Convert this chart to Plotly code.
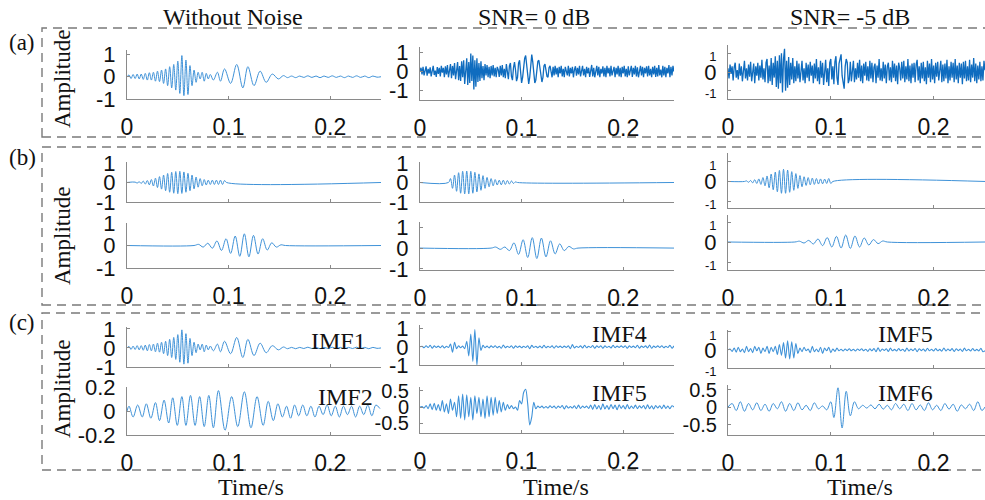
import plotly.graph_objects as go

# ---------------- DATA ----------------
X_TICKS = [0, 0.1, 0.2]
X_TICK_TEXT = ["0", "0.1", "0.2"]
COL_TITLES = ["Without Noise", "SNR= 0 dB", "SNR= -5 dB"]
ROW_TAGS = ["(a)", "(b)", "(c)"]
IMF_NAMES = ["IMF1", "IMF2", "IMF4", "IMF5", "IMF5", "IMF6"]

# clean signal (row a, col 1) -- also IMF1 (row c, col 1), identical in the picture
CLEAN_T0, CLEAN_DT = 0.0, 0.002
CLEAN_V1 = [0, 0.08, -0.08, 0.1, -0.08, 0.12, -0.1, 0.12, -0.12, 0.15, -0.15, 0.18, -0.15, 0.2,
            -0.2, 0.25, -0.22, 0.3, -0.3, 0.35, -0.4, 0.45, -0.5, 0.55, -0.6, 0.7, -0.75, 0.95,
            -0.85, 0.75, -0.8, 0.5, -0.4, 0.3, -0.25, 0.2, -0.1, 0.2, -0.2, 0.15, -0.1, 0.1]
CLEAN_T2 = [0.085, 0.089, 0.092, 0.096, 0.102, 0.108, 0.114, 0.119, 0.125, 0.131, 0.137, 0.143,
            0.149, 0.154, 0.158, 0.162, 0.166, 0.170, 0.174, 0.178, 0.182, 0.186, 0.190, 0.194,
            0.198, 0.202, 0.206, 0.210, 0.214, 0.218, 0.222, 0.226, 0.230, 0.234, 0.238, 0.242,
            0.246, 0.250]
CLEAN_V2 = [-0.15, 0.2, -0.2, 0.35, -0.3, 0.55, -0.5, 0.45, -0.4, 0.25, -0.25, 0.12, -0.1, 0.05,
            -0.04, 0.03, -0.04, 0.03, -0.03, 0.04, -0.03, 0.03, -0.04, 0.03, -0.03, 0.04, -0.03,
            0.03, -0.04, 0.03, -0.03, 0.04, -0.03, 0.03, -0.04, 0.03, -0.02, 0.0]

# row b components
B1_COL1_T0, B1_COL1_DT = 0.008, 0.002
B1_COL1_V = [0.02, -0.03, 0.04, -0.05, 0.07, -0.08, 0.1, -0.12, 0.15, -0.18, 0.22, -0.26, 0.3,
             -0.34, 0.38, -0.42, 0.46, -0.5, 0.52, -0.55, 0.56, -0.57, 0.57, -0.56, 0.54, -0.5,
             0.47, -0.42, 0.38, -0.33, 0.28, -0.24, 0.2, -0.17, 0.15, -0.13, 0.12, -0.1, 0.12,
             -0.1, 0.12, -0.1, 0.12, -0.1, 0.1, 0]
B2_COL1_T0, B2_COL1_DT = 0.066, 0.0045
B2_COL1_V = [0, 0.05, -0.07, 0.1, -0.12, 0.2, -0.22, 0.3, -0.35, 0.42, -0.48, 0.52, -0.5, 0.45,
             -0.38, 0.3, -0.2, 0.12, -0.07, 0.03, 0]
B1_COL2_T0, B1_COL2_DT = 0.028, 0.002
B1_COL2_V = [0, 0.2, -0.3, 0.38, -0.45, 0.5, -0.55, 0.57, -0.58, 0.58, -0.58, 0.57, -0.55, 0.52,
             -0.48, 0.44, -0.4, 0.35, -0.3, 0.26, -0.22, 0.2, -0.17, 0.15, -0.13, 0.12, -0.12,
             0.12, -0.1, 0.1, -0.08, 0.08, -0.05, 0.03, 0]
B2_COL2_T0, B2_COL2_DT = 0.070, 0.0045
B2_COL2_V = [0, 0.05, -0.06, 0.05, -0.12, 0.25, -0.3, 0.4, -0.45, 0.5, -0.5, 0.48, -0.42, 0.35,
             -0.28, 0.2, -0.12, 0.08, -0.04, 0]
B1_COL3_T0, B1_COL3_DT = 0.016, 0.002
B1_COL3_V = [0, 0.03, -0.04, 0.05, -0.07, 0.09, -0.1, 0.13, -0.15, 0.2, -0.22, 0.28, -0.32, 0.38,
             -0.42, 0.48, -0.52, 0.56, -0.6, 0.62, -0.6, 0.58, -0.55, 0.5, -0.45, 0.4, -0.35, 0.3,
             -0.27, 0.24, -0.2, 0.2, -0.17, 0.17, -0.15, 0.15, -0.13, 0.13, -0.12, 0.12, -0.1,
             0.15, -0.1, 0]
B2_COL3_T0, B2_COL3_DT = 0.065, 0.0045
B2_COL3_V = [0, 0.04, -0.05, 0.08, -0.1, 0.15, -0.18, 0.22, -0.25, 0.28, -0.3, 0.35, -0.32, 0.3,
             -0.25, 0.2, -0.15, 0.12, -0.08, 0.05, 0]

# noisy signals, sampled every 1 ms
NOISY0_DT = 0.001
NOISY0_V = [0.05, 0.2, -0.15, 0.25, -0.2, 0.1, 0.28, -0.22, 0.15, -0.1,
            0.22, -0.25, 0.18, 0.3, -0.18, 0.05, -0.28, 0.24, -0.12, 0.2,
            -0.26, 0.3, -0.05, 0.2, -0.3, 0.28, -0.15, 0.35, -0.3, 0.1,
            0.4, -0.35, 0.3, -0.2, 0.45, -0.4, 0.2, 0.5, -0.45, 0.3,
            -0.5, 0.55, -0.3, 0.6, -0.65, 0.4, 0.7, -0.7, 0.5, -0.6,
            0.95, -0.5, 0.85, -0.95, 0.6, -0.8, 0.7, -0.55, 0.45, -0.5,
            0.55, -0.35, 0.3, -0.45, 0.4, -0.2, 0.35, -0.3, 0.25, -0.35,
            0.3, -0.2, 0.35, -0.25, 0.2, -0.3, 0.25, 0.1, -0.28, 0.3,
            -0.2, 0.35, -0.3, 0.15, -0.35, 0.4, -0.1, -0.4, 0.3, 0.45,
            -0.25, -0.45, 0.2, 0.5, 0.1, -0.5, -0.3, 0.45, 0.6, -0.2,
            -0.6, -0.3, 0.4, 0.7, 0.85, 0.3, -0.5, -0.65, -0.3, 0.5,
            0.9, 0.5, -0.2, -0.6, -0.45, 0.1, 0.55, 0.6, 0.2, -0.35,
            -0.55, -0.3, 0.3, 0.4, 0.15, -0.25, -0.3, 0.2, 0.3, -0.1,
            -0.3, 0.25, -0.2, 0.3, -0.15, 0.2, -0.3, 0.25, -0.1, 0.3,
            -0.25, 0.15, -0.3, 0.25, 0.05, -0.2, 0.3, -0.25, 0.2, -0.1,
            0.25, -0.3, 0.1, 0.28, -0.22, 0.2, -0.15, 0.3, -0.25, 0.05,
            0.3, -0.2, 0.15, -0.3, 0.25, -0.1, 0.2, -0.28, 0.22, 0.35,
            -0.25, 0.2, -0.3, 0.1, 0.3, -0.2, 0.25, -0.3, 0.15, -0.1,
            0.28, -0.25, 0.2, -0.3, 0.3, -0.1, 0.2, -0.25, 0.3, -0.2,
            0.1, 0.25, -0.3, 0.2, -0.15, 0.3, -0.25, 0.2, -0.3, 0.25,
            -0.1, 0.3, -0.25, 0.15, -0.3, 0.28, -0.2, 0.1, 0.3, -0.28,
            0.2, -0.15, 0.3, -0.25, 0.22, -0.3, 0.15, 0.3, -0.2, 0.25,
            -0.3, 0.2, -0.1, 0.28, -0.25, 0.3, -0.2, 0.15, -0.3, 0.25,
            -0.15, 0.3, -0.28, 0.2, -0.25, 0.35, -0.2, 0.1, -0.3, 0.3,
            -0.2, 0.25, -0.3, 0.2, -0.1, 0.35, -0.3, 0.25, -0.2, 0.3, 0.0]
NOISY5_DT = 0.001
NOISY5_V = [0.2, -0.35, 0.4, -0.1, 0.3, -0.45, 0.25, 0.5, -0.3, 0.1,
            -0.4, 0.45, -0.2, 0.3, -0.5, 0.35, 0.6, -0.35, 0.2, -0.45,
            0.4, -0.25, 0.55, -0.5, 0.15, 0.45, -0.6, 0.3, -0.2, 0.5,
            -0.45, 0.35, -0.3, 0.65, -0.4, 0.2, -0.55, 0.5, 0.7, -0.6,
            0.35, -0.5, 0.75, -0.7, 0.5, -0.3, 0.85, -0.8, 0.6, -0.9,
            0.9, -0.6, 1.0, -1.1, 0.7, 1.25, -1.0, 0.6, -0.85, 0.8,
            -0.7, 0.5, -0.4, 0.75, -0.6, 0.3, -0.5, 0.6, -0.35, 0.45,
            -0.55, 0.3, 0.6, -0.45, 0.2, -0.6, 0.5, -0.3, 0.4, -0.5,
            0.55, -0.2, 0.35, -0.6, 0.45, -0.35, 0.7, -0.5, 0.25, -0.65,
            0.6, -0.3, 0.5, -0.7, 0.35, 0.65, -0.55, 0.2, -0.75, 0.5,
            0.7, -0.4, 0.3, -0.65, 0.55, 0.85, -0.3, -0.7, 0.45, 0.8,
            0.95, -0.2, -0.75, -0.9, 0.3, 0.7, 0.5, -0.6, -0.4, 0.55,
            -0.5, 0.3, 0.6, -0.55, 0.2, -0.4, 0.5, -0.3, 0.65, -0.5,
            0.35, -0.6, 0.45, -0.2, 0.55, -0.45, 0.3, -0.5, 0.6, -0.35,
            0.5, -0.55, 0.25, 0.45, -0.6, 0.35, -0.3, 0.7, -0.45, 0.2,
            -0.5, 0.55, -0.35, 0.4, -0.6, 0.3, 0.5, -0.45, 0.25, -0.55,
            0.6, -0.3, 0.45, -0.5, 0.35, -0.65, 0.5, 0.2, -0.45, 0.55,
            -0.35, 0.6, -0.55, 0.3, -0.4, 0.7, -0.5, 0.35, -0.6, 0.45,
            -0.3, 0.5, -0.55, 0.4, 0.65, -0.45, 0.3, -0.6, 0.5, -0.35,
            0.55, -0.5, 0.25, -0.65, 0.6, -0.3, 0.45, -0.55, 0.7, -0.4,
            0.35, -0.6, 0.5, -0.25, 0.55, -0.45, 0.3, 0.6, -0.55, 0.4,
            -0.5, 0.45, -0.35, 0.65, -0.6, 0.3, -0.45, 0.55, -0.3, 0.5,
            -0.55, 0.7, -0.4, 0.35, -0.6, 0.5, -0.3, 0.45, -0.65, 0.55,
            -0.35, 0.6, -0.5, 0.3, -0.45, 0.65, -0.55, 0.4, -0.3, 0.75,
            -0.5, 0.45, -0.6, 0.35, -0.4, 0.55, -0.5, 0.3, -0.45, 0.6, 0.1]

# IMF2 (row c, col 1)
IMF2_T = [0, 0.002, 0.006, 0.0105, 0.015, 0.019, 0.0235, 0.028, 0.032, 0.0365, 0.041, 0.045,
          0.0495, 0.054, 0.058, 0.0625, 0.067, 0.0715, 0.076, 0.0805, 0.085, 0.090, 0.0965,
          0.103, 0.109, 0.1155, 0.122, 0.128, 0.134, 0.139, 0.144, 0.1485, 0.153, 0.157, 0.161,
          0.165, 0.169, 0.173, 0.177, 0.181, 0.185, 0.189, 0.193, 0.197, 0.201, 0.205, 0.209,
          0.213, 0.217, 0.221, 0.225, 0.229, 0.233, 0.237, 0.241, 0.245, 0.249]
IMF2_V = [0, 0.04, -0.05, 0.05, -0.05, 0.06, -0.06, 0.07, -0.08, 0.09, -0.1, 0.11, -0.12, 0.12,
          -0.12, 0.13, -0.12, 0.12, -0.13, 0.13, -0.14, 0.17, -0.16, 0.12, -0.13, 0.16, -0.14,
          0.12, -0.12, 0.08, -0.08, 0.06, -0.05, 0.04, -0.06, 0.05, -0.04, 0.05, -0.04, 0.04,
          -0.05, 0.04, -0.03, 0.05, -0.04, 0.04, -0.05, 0.04, -0.03, 0.04, -0.05, 0.04, -0.03,
          0.05, -0.04, 0.05, 0.02]

# IMF4 / IMF5 (col 2), IMF5 (col 3): sampled every 2 ms
IMF_DT = 0.002
IMF4_V = [0, 0.03, -0.05, 0.06, -0.04, 0.08, -0.08, 0.05, -0.03, 0.04,
          -0.05, 0.06, -0.06, 0.03, -0.04, 0.15, -0.3, 0.25, -0.1, 0.05,
          -0.05, 0.04, -0.1, 0.3, -0.5, 0.7, -0.8, 0.95, -1.0, 0.5,
          -0.2, 0.08, -0.05, 0.04, -0.06, 0.05, -0.04, 0.06, -0.05, 0.03,
          -0.08, 0.1, -0.05, 0.03, -0.04, 0.06, -0.08, 0.05, -0.03, 0.04,
          -0.05, 0.03, -0.04, 0.06, -0.1, 0.08, -0.04, 0.03, -0.05, 0.04,
          -0.06, 0.08, -0.05, 0.03, -0.04, 0.05, -0.07, 0.06, -0.03, 0.04,
          -0.05, 0.04, -0.03, 0.05, -0.1, 0.12, -0.06, 0.03, -0.04, 0.05,
          -0.06, 0.08, -0.05, 0.03, -0.04, 0.07, -0.08, 0.05, -0.03, 0.06,
          -0.08, 0.05, -0.04, 0.03, -0.06, 0.08, -0.05, 0.04, -0.03, 0.05,
          -0.04, 0.06, -0.08, 0.05, -0.03, 0.04, -0.05, 0.08, -0.07, 0.04,
          -0.03, 0.05, -0.06, 0.1, -0.08, 0.04, -0.03, 0.05, -0.04, 0.06,
          -0.05, 0.03, -0.04, 0.08, -0.08, 0.05]
IMF5_COL2_V = [0, 0.02, -0.03, 0.05, -0.05, 0.1, -0.08, 0.12, -0.1, 0.08,
               -0.12, 0.2, -0.15, 0.1, -0.2, 0.25, -0.1, 0.15, -0.3, 0.35,
               -0.35, 0.4, -0.4, 0.38, -0.3, 0.3, -0.4, 0.35, -0.2, 0.3,
               -0.3, 0.25, -0.35, 0.35, -0.3, 0.3, -0.25, 0.3, -0.2, 0.2,
               -0.15, 0.15, -0.1, 0.08, -0.05, 0.05, -0.05, 0.0, -0.1, 0.2,
               0.1, 0.45, 0.55, 0.1, -0.55, -0.3, 0.15, -0.05, 0.03, -0.02,
               0.03, -0.03, 0.02, -0.03, 0.04, -0.02, 0.03, -0.04, 0.03, -0.02,
               0.05, -0.06, 0.04, -0.03, 0.02, -0.03, 0.04, -0.05, 0.06, -0.04,
               0.03, -0.02, 0.03, -0.04, 0.06, -0.07, 0.08, -0.06, 0.05, -0.08,
               0.1, -0.06, 0.05, -0.07, 0.08, -0.05, 0.06, -0.08, 0.07, -0.04,
               0.05, -0.06, 0.08, -0.05, 0.03, -0.04, 0.06, -0.05, 0.04, -0.03,
               0.05, -0.06, 0.07, -0.05, 0.04, -0.06, 0.05, -0.03, 0.04, -0.05,
               0.06, -0.04, 0.03, -0.05, 0.04, 0.0]
IMF5_COL3_V = [0, 0.05, -0.08, 0.1, -0.12, 0.15, -0.1, 0.05, -0.15, 0.2,
               -0.1, 0.08, -0.15, 0.2, -0.05, 0.15, -0.2, 0.1, -0.1, 0.2,
               -0.2, 0.15, -0.1, 0.2, -0.25, 0.3, -0.3, 0.4, -0.45, 0.5,
               -0.5, 0.45, -0.45, 0.35, -0.2, 0.1, -0.1, 0.15, -0.05, 0.05,
               -0.15, 0.2, -0.1, 0.05, -0.1, 0.15, -0.2, 0.1, -0.05, 0.15,
               -0.15, 0.05, -0.08, 0.1, -0.05, 0.04, -0.06, 0.05, -0.04, 0.06,
               -0.05, 0.04, -0.06, 0.05, -0.03, 0.06, -0.05, 0.04, -0.08, 0.06,
               -0.05, 0.08, -0.1, 0.12, -0.08, 0.05, -0.03, 0.06, -0.08, 0.1,
               -0.05, 0.03, -0.06, 0.08, -0.05, 0.04, -0.08, 0.1, -0.06, 0.05,
               -0.04, 0.08, -0.1, 0.06, -0.04, 0.05, -0.07, 0.09, -0.05, 0.04,
               -0.06, 0.08, -0.05, 0.03, -0.07, 0.1, -0.06, 0.05, -0.04, 0.07,
               -0.09, 0.06, -0.04, 0.05, -0.08, 0.1, -0.05, 0.04, -0.06, 0.08,
               -0.05, 0.03, -0.06, 0.09, -0.1, -0.05]
# IMF6 (row c, col 3)
IMF6_T = [0.000, 0.004, 0.008, 0.012, 0.016, 0.020, 0.024, 0.028, 0.032, 0.036, 0.040, 0.044,
          0.048, 0.052, 0.056, 0.060, 0.064, 0.068, 0.072, 0.076, 0.080, 0.084, 0.088, 0.092,
          0.096, 0.100, 0.103, 0.107, 0.111, 0.115, 0.119, 0.123, 0.127, 0.131, 0.135, 0.139,
          0.143, 0.147, 0.151, 0.155, 0.159, 0.163, 0.167, 0.171, 0.175, 0.179, 0.183, 0.187,
          0.191, 0.195, 0.199, 0.203, 0.207, 0.211, 0.215, 0.219, 0.223, 0.227, 0.231, 0.235,
          0.239, 0.243, 0.247, 0.250]
IMF6_V = [0, 0.1, -0.1, 0.15, -0.12, 0.1, -0.08, 0.12, -0.1, 0.08, -0.12, 0.1, -0.05, 0.15,
          -0.12, 0.1, -0.1, 0.12, -0.08, 0.05, -0.1, 0.12, -0.05, 0.03, -0.08, 0.15, -0.3, 0.55,
          -0.6, 0.45, -0.25, 0.15, -0.05, 0.05, -0.03, 0.06, -0.05, 0.08, -0.06, 0.05, -0.08,
          0.1, -0.05, 0.08, -0.1, 0.1, -0.08, 0.06, -0.1, 0.12, -0.08, 0.05, -0.1, 0.1, -0.06,
          0.08, -0.12, 0.06, -0.05, 0.08, -0.1, 0.15, -0.1, 0.0]


# ---------------- helpers ----------------
def grid_times(t0, dt, values):
    return [round(t0 + dt * k, 6) for k in range(len(values))]


def padded(t0, dt, values):
    """Burst sampled on a grid, with the flat zero line before and after it."""
    t = grid_times(t0, dt, values)
    return [0.0] + t + [0.25], [0.0] + list(values) + [0.0]


clean = (grid_times(CLEAN_T0, CLEAN_DT, CLEAN_V1) + CLEAN_T2, CLEAN_V1 + CLEAN_V2)
imf1 = clean
noisy0 = (grid_times(0, NOISY0_DT, NOISY0_V), NOISY0_V)
noisy5 = (grid_times(0, NOISY5_DT, NOISY5_V), NOISY5_V)
b1c1 = padded(B1_COL1_T0, B1_COL1_DT, B1_COL1_V)
b2c1 = padded(B2_COL1_T0, B2_COL1_DT, B2_COL1_V)
b1c2 = padded(B1_COL2_T0, B1_COL2_DT, B1_COL2_V)
b2c2 = padded(B2_COL2_T0, B2_COL2_DT, B2_COL2_V)
b1c3 = padded(B1_COL3_T0, B1_COL3_DT, B1_COL3_V)
b2c3 = padded(B2_COL3_T0, B2_COL3_DT, B2_COL3_V)
imf2 = (IMF2_T, IMF2_V)
imf4 = (grid_times(0, IMF_DT, IMF4_V), IMF4_V)
imf5c2 = (grid_times(0, IMF_DT, IMF5_COL2_V), IMF5_COL2_V)
imf5c3 = (grid_times(0, IMF_DT, IMF5_COL3_V), IMF5_COL3_V)
imf6 = (IMF6_T, IMF6_V)

# ---------------- layout ----------------
W, H = 985, 500
def fx(px): return px / W
def fy(px): return 1 - px / H

SERIF = "Liberation Serif, Times New Roman, serif"
SANS = "Liberation Sans, Arial, sans-serif"
AX = "#8a8a8a"
LIGHT = "#3f92d8"
DARK = "#0f6cbf"
TXT = "#111111"

COL_X = {1: (127, 381), 2: (420, 674), 3: (728, 985)}
SMALL1 = ["<span style='font-size:13px'>-1</span>", "0", "<span style='font-size:13px'>1</span>"]
YT = {
    "pm1": ([-1, 0, 1], ["-1", "0", "1"], 22),
    "pm1s": ([-1, 0, 1], SMALL1, 22),
    "pm02": ([-0.2, 0, 0.2], ["-0.2", "0", "0.2"], 22),
    "pm05": ([-0.5, 0, 0.5], ["-0.5", "0", "0.5"], 20),
}
# (col, top px, bottom px, y range, ytick set, x labels, data, style)
PANELS = [
    (1, 50, 99, [-1, 1.2], "pm1", True, clean, "clean"),
    (1, 162, 202, [-1, 1.05], "pm1", False, b1c1, "clean"),
    (1, 223, 268, [-1, 1], "pm1", True, b2c1, "clean"),
    (1, 327, 367, [-1, 1.1], "pm1", False, imf1, "clean"),
    (1, 387, 435, [-0.2, 0.2], "pm02", True, imf2, "clean"),
    (2, 47, 100, [-1.5, 1.3], "pm1", True, noisy0, "noisy"),
    (2, 162, 202, [-1, 1.05], "pm1", False, b1c2, "clean"),
    (2, 222, 270, [-1.05, 1.25], "pm1", True, b2c2, "clean"),
    (2, 325, 365, [-1, 1.2], "pm1", False, imf4, "imf"),
    (2, 387, 433, [-0.8, 0.62], "pm05", True, imf5c2, "imf"),
    (3, 45, 99, [-1.45, 1.45], "pm1s", True, noisy5, "noisy"),
    (3, 153, 208, [-1.35, 1.45], "pm1s", False, b1c3, "clean"),
    (3, 215, 270, [-1.4, 1.35], "pm1s", True, b2c3, "clean"),
    (3, 330, 368, [-1, 1.1], "pm1s", False, imf5c3, "imf"),
    (3, 385, 435, [-0.8, 0.63], "pm05", True, imf6, "clean"),
]

fig = go.Figure()
layout = dict(
    width=W, height=H, margin=dict(l=0, r=0, t=0, b=0, autoexpand=False),
    paper_bgcolor="white", plot_bgcolor="white", showlegend=False,
    font=dict(family=SANS, color=TXT),
)

for i, (col, top, bot, yr, ytk, xlab, data, style) in enumerate(PANELS, start=1):
    xs = "" if i == 1 else str(i)
    x0, x1 = COL_X[col]
    layout["xaxis" + xs] = dict(
        domain=[fx(x0), fx(x1)], range=[0, 0.25], anchor="y" + xs, automargin=False,
        showgrid=False, zeroline=False, showline=True, linecolor=AX, linewidth=1,
        ticks="inside", ticklen=3, tickcolor=AX, tickvals=X_TICKS, ticktext=X_TICK_TEXT,
        showticklabels=xlab, tickfont=dict(family=SANS, size=23, color=TXT),
        ticklabelstandoff=7, fixedrange=True,
    )
    tv, tt, tsize = YT[ytk]
    layout["yaxis" + xs] = dict(
        domain=[fy(bot), fy(top)], range=yr, anchor="x" + xs, automargin=False,
        showgrid=False, zeroline=False, showline=True, linecolor=AX, linewidth=1,
        ticks="inside", ticklen=3, tickcolor=AX, tickvals=tv, ticktext=tt,
        tickfont=dict(family=SANS, size=tsize, color=TXT), ticklabelstandoff=6,
        fixedrange=True,
    )
    t, v = data
    if style == "noisy":
        line = dict(color=DARK, width=1.3)
    elif style == "imf":
        line = dict(color=LIGHT, width=1.1, shape="spline", smoothing=0.8)
    else:
        line = dict(color=LIGHT, width=1, shape="spline", smoothing=1.0)
    fig.add_trace(go.Scatter(x=t, y=v, mode="lines", line=line, hoverinfo="skip",
                             xaxis="x" + xs, yaxis="y" + xs))

annotations = []
def txt(text, x, y, size=24, angle=0, family=SERIF):
    annotations.append(dict(text=text, x=fx(x), y=fy(y), xref="paper", yref="paper",
                            xanchor="center", yanchor="middle", showarrow=False,
                            textangle=angle, font=dict(family=family, size=size, color=TXT)))

for title, cx in zip(COL_TITLES, [233, 534, 850]):
    txt(title, cx, 17)
for tag, cy in zip(ROW_TAGS, [43, 157, 322]):
    txt(tag, 22, cy, size=23)
for cy in [79, 236, 389]:
    txt("Amplitude", 62, cy, size=23, angle=-90)
for name, (cx, cy) in zip(IMF_NAMES, [(338, 341), (345, 397), (619, 334), (619, 393),
                                      (905, 334), (905, 393)]):
    txt(name, cx, cy)
for cx in [251, 556, 860]:
    txt("Time/s", cx, 487)
layout["annotations"] = annotations

shapes = []
for y0, y1 in [(28, 137), (147, 305), (313, 470)]:
    shapes.append(dict(type="rect", xref="paper", yref="paper", x0=fx(42), x1=fx(995),
                       y0=fy(y1), y1=fy(y0), line=dict(color="#7a7a7a", width=1.4,
                       dash="9px,6px"), fillcolor="rgba(0,0,0,0)", layer="below"))
layout["shapes"] = shapes

fig.update_layout(**layout)
fig.write_html(
    "out.html",
    config={"displayModeBar": False},
    post_script="document.body.style.margin='0';document.body.style.overflow='hidden';",
)
